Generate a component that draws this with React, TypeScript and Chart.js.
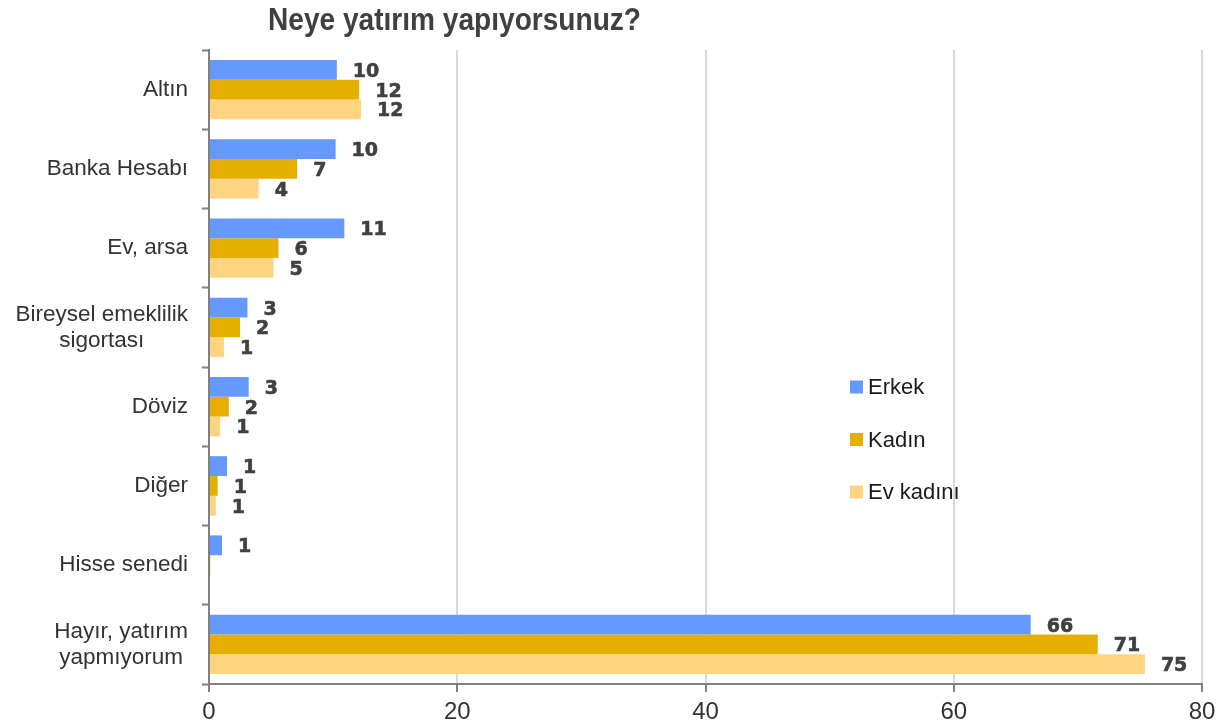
import React, { useEffect, useRef } from "react";
import { Chart, registerables } from "chart.js";

Chart.register(...registerables);

const title = "Neye yatırım yapıyorsunuz?";
const categories: (string | string[])[] = [
  "Altın",
  "Banka Hesabı",
  "Ev, arsa",
  ["Bireysel emeklilik", "sigortası"],
  "Döviz",
  "Diğer",
  "Hisse senedi",
  ["Hayır, yatırım", "yapmıyorum"],
];
const seriesNames = ["Erkek", "Kadın", "Ev kadını"];
const erkek = [10.3, 10.2, 10.9, 3.1, 3.2, 1.45, 1.05, 66.2];
const kadin = [12.1, 7.1, 5.6, 2.5, 1.6, 0.7, 0.1, 71.6];
const evKadini = [12.25, 4.0, 5.2, 1.2, 0.9, 0.55, 0, 75.4];
const erkekLabels = ["10", "10", "11", "3", "3", "1", "1", "66"];
const kadinLabels = ["12", "7", "6", "2", "2", "1", "", "71"];
const evKadiniLabels = ["12", "4", "5", "1", "1", "1", "", "75"];
const xTicks = [0, 20, 40, 60, 80];

const colors = ["#6699FF", "#E6AF00", "#FFD480"];
const TEXT = "#333333";
const CAT_FONT = "22.5px 'Liberation Sans', Arial, sans-serif";

export default function App() {
  const ref = useRef<HTMLCanvasElement | null>(null);

  useEffect(() => {
    if (!ref.current) return;
    const labelSets = [erkekLabels, kadinLabels, evKadiniLabels];

    const customDraw = {
      id: "customDraw",
      afterDatasetsDraw(chart: any) {
        const ctx = chart.ctx;
        // data labels
        ctx.save();
        ctx.font = "bold 19px 'DejaVu Sans', sans-serif";
        ctx.fillStyle = "#404040";
        ctx.strokeStyle = "#404040";
        ctx.lineWidth = 0.6;
        ctx.lineJoin = "round";
        ctx.textAlign = "left";
        ctx.textBaseline = "middle";
        chart.data.datasets.forEach((ds: any, di: number) => {
          const meta = chart.getDatasetMeta(di);
          meta.data.forEach((bar: any, i: number) => {
            const t = labelSets[di][i];
            if (!t) return;
            ctx.fillText(t, bar.x + 16, bar.y + 2);
            ctx.strokeText(t, bar.x + 16, bar.y + 2);
          });
        });
        ctx.restore();
      },
      afterDraw(chart: any) {
        const ctx = chart.ctx;
        const yScale = chart.scales.y;
        // category labels (centered lines, right-aligned block)
        ctx.save();
        ctx.font = CAT_FONT;
        ctx.fillStyle = TEXT;
        ctx.textBaseline = "middle";
        ctx.textAlign = "center";
        const right = chart.chartArea.left - 21;
        const lh = 26;
        categories.forEach((c, i) => {
          const lines = Array.isArray(c) ? c : [c];
          const w = Math.max(...lines.map((l) => ctx.measureText(l).width));
          const cx = right - w / 2;
          const y = yScale.getPixelForValue(i);
          const y0 = y - ((lines.length - 1) * lh) / 2;
          lines.forEach((l, k) => ctx.fillText(l, cx, y0 + k * lh));
        });
        ctx.restore();

        // title (condensed to the original width)
        ctx.save();
        ctx.font = "bold 31px 'Liberation Sans', Arial, sans-serif";
        ctx.fillStyle = "#404040";
        ctx.textAlign = "left";
        ctx.textBaseline = "middle";
        const tw = ctx.measureText(title).width;
        ctx.translate(268, 21);
        ctx.scale(373 / tw, 1);
        ctx.fillText(title, 0, 0);
        ctx.restore();

        // legend
        ctx.save();
        ctx.font = "22px 'Liberation Sans', Arial, sans-serif";
        ctx.textBaseline = "middle";
        ctx.textAlign = "left";
        seriesNames.forEach((n, i) => {
          const y = 387 + i * 52.5;
          ctx.fillStyle = colors[i];
          ctx.fillRect(850, y - 6.5, 13, 13);
          ctx.fillStyle = "#1a1a1a";
          ctx.fillText(n, 868, y + 1);
        });
        ctx.restore();
      },
    };

    const chart = new Chart(ref.current, {
      type: "bar",
      data: {
        labels: categories.map((c) => (Array.isArray(c) ? c.join(" ") : c)),
        datasets: [
          { label: seriesNames[0], data: erkek, backgroundColor: colors[0] },
          { label: seriesNames[1], data: kadin, backgroundColor: colors[1] },
          { label: seriesNames[2], data: evKadini, backgroundColor: colors[2] },
        ],
      },
      options: {
        indexAxis: "y",
        animation: false,
        responsive: false,
        maintainAspectRatio: false,
        layout: { padding: { top: 50, right: 22, left: 0, bottom: 0 } },
        datasets: { bar: { categoryPercentage: 0.75, barPercentage: 1 } },
        plugins: {
          legend: { display: false },
          title: { display: false },
          tooltip: { enabled: false },
        },
        scales: {
          x: {
            min: 0,
            max: 80,
            afterBuildTicks: (s: any) => {
              s.ticks = xTicks.map((v) => ({ value: v }));
            },
            afterFit: (s: any) => {
              s.height = 42;
            },
            grid: {
              color: "#D9D9D9",
              lineWidth: 2,
              drawTicks: true,
              tickLength: 8,
              tickColor: "#808080",
              tickWidth: 2,
            },
            border: { display: true, color: "#808080", width: 2 },
            ticks: {
              color: TEXT,
              font: { family: "'Liberation Sans', Arial, sans-serif", size: 24 },
              padding: 6,
              maxRotation: 0,
            },
          },
          y: {
            afterFit: (s: any) => {
              s.width = 209;
            },
            grid: {
              offset: true,
              drawOnChartArea: false,
              drawTicks: true,
              tickLength: 7,
              tickColor: "#808080",
              tickWidth: 2,
            },
            border: { display: true, color: "#808080", width: 2 },
            ticks: {
              color: "rgba(0,0,0,0)",
              font: { size: 12 },
            },
          },
        },
      },
      plugins: [customDraw],
    });
    return () => chart.destroy();
  }, []);

  return (
    <div style={{ position: "fixed", left: 0, top: 0, width: 1224, height: 726, background: "#fff" }}>
      <canvas ref={ref} width={1224} height={726} style={{ width: 1224, height: 726, display: "block" }} />
    </div>
  );
}
